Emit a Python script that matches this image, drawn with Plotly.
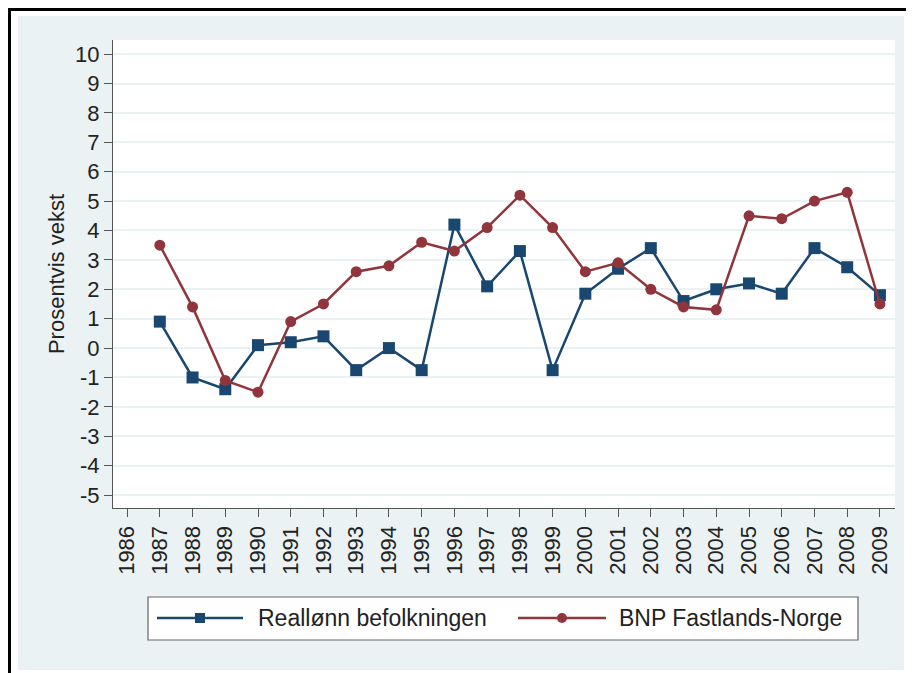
import plotly.graph_objects as go

years = list(range(1987, 2010))
reallonn = [0.9, -1.0, -1.4, 0.1, 0.2, 0.4, -0.75, 0.0, -0.75, 4.2, 2.1, 3.3, -0.75,
            1.85, 2.7, 3.4, 1.6, 2.0, 2.2, 1.85, 3.4, 2.75, 1.8]
bnp = [3.5, 1.4, -1.1, -1.5, 0.9, 1.5, 2.6, 2.8, 3.6, 3.3, 4.1, 5.2, 4.1,
       2.6, 2.9, 2.0, 1.4, 1.3, 4.5, 4.4, 5.0, 5.3, 1.5]
x_ticks = list(range(1986, 2010))
y_ticks = list(range(-5, 11))
series_names = ["Reallønn befolkningen", "BNP Fastlands-Norge"]

BLUE = "#1A476F"
RED = "#90353B"
BG = "#EAF2F3"
FONT = "Liberation Sans, Arial, sans-serif"

OFF = 8  # page body margin
W, H = 906, 665
# plot area in page pixels: x 113..895, y 40..508
L, T = 113 - OFF, 40 - OFF
R, B = W - (895 - OFF), H - (508 - OFF)
pw, ph = W - L - R, H - T - B


def px(x):
    return (x - OFF - L) / pw


def py(y):
    return (H - B - (y - OFF)) / ph


fig = go.Figure()
fig.add_trace(go.Scatter(x=years, y=reallonn, mode="lines+markers", name=series_names[0],
                         line=dict(color=BLUE, width=2.5),
                         marker=dict(symbol="square", size=12, color=BLUE),
                         showlegend=False))
fig.add_trace(go.Scatter(x=years, y=bnp, mode="lines+markers", name=series_names[1],
                         line=dict(color=RED, width=2.5),
                         marker=dict(symbol="circle", size=11, color=RED),
                         showlegend=False))

shapes = [
    # white outer strips
    dict(type="rect", xref="paper", yref="paper", x0=px(0), x1=px(920), y0=py(16), y1=py(0),
         fillcolor="white", line_width=0, layer="below"),
    dict(type="rect", xref="paper", yref="paper", x0=px(0), x1=px(18), y0=py(680), y1=py(0),
         fillcolor="white", line_width=0, layer="below"),
    dict(type="rect", xref="paper", yref="paper", x0=px(904), x1=px(920), y0=py(680), y1=py(0),
         fillcolor="white", line_width=0, layer="below"),
    dict(type="rect", xref="paper", yref="paper", x0=px(0), x1=px(920), y0=py(680), y1=py(670),
         fillcolor="white", line_width=0, layer="below"),
    # black frame lines (as close to page edge as the figure allows)
    dict(type="line", xref="paper", yref="paper", x0=px(9), x1=px(920), y0=py(9.5), y1=py(9.5),
         line=dict(color="black", width=3)),
    dict(type="line", xref="paper", yref="paper", x0=px(9.5), x1=px(9.5), y0=py(8), y1=py(680),
         line=dict(color="black", width=3)),
    # legend box
    dict(type="rect", xref="paper", yref="paper", x0=px(148), x1=px(858), y0=py(640), y1=py(597),
         fillcolor="white", line=dict(color="#666666", width=1.2)),
    # legend keys
    dict(type="line", xref="paper", yref="paper", x0=px(157), x1=px(243), y0=py(618), y1=py(618),
         line=dict(color=BLUE, width=2.5)),
    dict(type="rect", xref="paper", yref="paper", x0=px(195), x1=px(205), y0=py(623), y1=py(613),
         fillcolor=BLUE, line=dict(color=BLUE, width=0)),
    dict(type="line", xref="paper", yref="paper", x0=px(518), x1=px(606), y0=py(618), y1=py(618),
         line=dict(color=RED, width=2.5)),
    dict(type="circle", xref="paper", yref="paper", x0=px(557), x1=px(567), y0=py(623), y1=py(613),
         fillcolor=RED, line=dict(color=RED, width=0)),
]

annotations = [
    dict(text=series_names[0], xref="paper", yref="paper", x=px(256), y=py(618),
         xanchor="left", yanchor="middle", showarrow=False,
         font=dict(family=FONT, size=23, color="#222222")),
    dict(text=series_names[1], xref="paper", yref="paper", x=px(617), y=py(618),
         xanchor="left", yanchor="middle", showarrow=False,
         font=dict(family=FONT, size=23, color="#222222")),
]

fig.update_layout(
    width=W, height=H,
    margin=dict(l=L, r=R, t=T, b=B, autoexpand=False),
    paper_bgcolor=BG, plot_bgcolor="white",
    font=dict(family=FONT, size=22, color="#222222"),
    shapes=shapes, annotations=annotations,
    showlegend=False,
)
fig.update_xaxes(
    range=[1985.57, 2009.46], tickmode="array", tickvals=x_ticks,
    ticktext=[str(v) for v in x_ticks], tickangle=-90,
    showgrid=False, zeroline=False, showline=True, linecolor="#555555", linewidth=1.2,
    ticks="outside", ticklen=8, tickcolor="#555555", tickwidth=1.2,
    tickfont=dict(size=22), automargin=False,
)
fig.update_yaxes(
    range=[-5.44, 10.48], tickmode="array", tickvals=y_ticks,
    ticktext=[str(v) for v in y_ticks],
    showgrid=True, gridcolor=BG, gridwidth=1.5, zeroline=False,
    showline=True, linecolor="#555555", linewidth=1.2,
    ticks="outside", ticklen=8, tickcolor="#555555", tickwidth=1.2,
    tickfont=dict(size=22), automargin=False,
    title=dict(text="Prosentvis vekst", font=dict(size=22), standoff=4),
)

fig.write_html("out.html")
